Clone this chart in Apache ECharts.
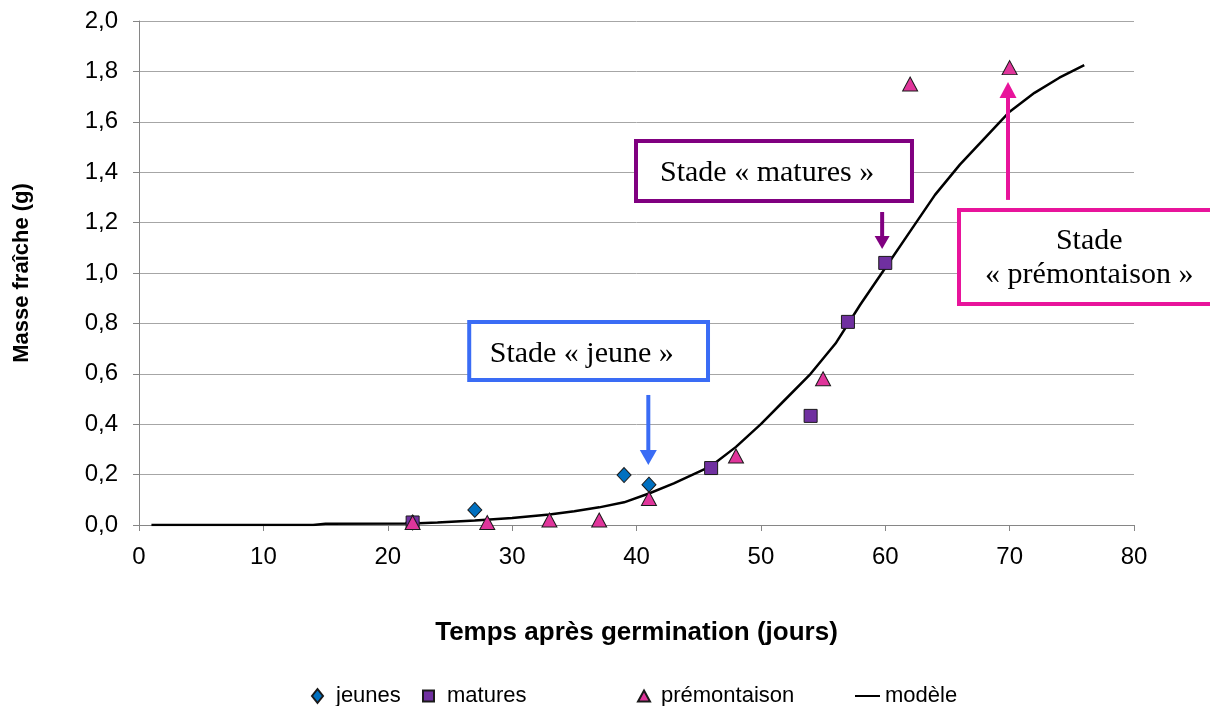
<!DOCTYPE html>
<html>
<head>
<meta charset="utf-8">
<script src="https://cdn.jsdelivr.net/npm/echarts@6/dist/echarts.min.js"></script>
<style>html,body{margin:0;padding:0;background:#fff;}#c{width:1210px;height:706px;}</style>
</head>
<body>
<div id="c"></div>
<script>
// ---- data ----
var jeunes = [[22, 0.01], [27, 0.06], [39, 0.198], [41, 0.16]];
var matures = [[22, 0.01], [46, 0.226], [54, 0.433], [57, 0.806], [60, 1.04]];
var premontaison = [[22, 0.01], [28, 0.01], [33, 0.02], [37, 0.02], [41, 0.105], [48, 0.274], [55, 0.58], [62, 1.75], [70, 1.815]];
var modeleX = [1, 14, 15, 22, 24, 27, 30, 33, 35, 37, 39, 41, 43, 46, 48, 50, 52, 54, 56, 58, 60, 62, 64, 66, 68, 70, 72, 74, 76];
var modeleY = [0, 0, 0.005, 0.006, 0.01, 0.018, 0.028, 0.042, 0.055, 0.07, 0.09, 0.125, 0.165, 0.234, 0.31, 0.40, 0.50, 0.60, 0.72, 0.875, 1.02, 1.165, 1.31, 1.43, 1.535, 1.64, 1.715, 1.775, 1.825];
var xTickLabels = ['0', '10', '20', '30', '40', '50', '60', '70', '80'];
var yTickLabels = ['0,0', '0,2', '0,4', '0,6', '0,8', '1,0', '1,2', '1,4', '1,6', '1,8', '2,0'];
var seriesNames = ['jeunes', 'matures', 'prémontaison', 'modèle'];
var xTitle = 'Temps après germination (jours)';
var yTitle = 'Masse fraîche (g)';
var annotTexts = ['Stade « jeune »', 'Stade « matures »', 'Stade\n« prémontaison »'];

var modele = modeleX.map(function (x, i) { return [x, modeleY[i]]; });

var chart = echarts.init(document.getElementById('c'));
var sansFont = 'Liberation Sans, Arial, sans-serif';
var axisGray = '#868686';

function legendFor(name, icon, left, w, h, pad) {
  return {
    data: [{ name: name, icon: icon }], left: left, top: 685, itemWidth: w, itemHeight: h,
    itemGap: 0, padding: 0,
    textStyle: { fontFamily: sansFont, fontSize: 22, color: '#000', padding: [0, 0, 0, pad] }
  };
}

chart.setOption({
  animation: false,
  backgroundColor: '#fff',
  grid: { left: 139, right: 76, top: 21, bottom: 181 },
  legend: [
    legendFor(seriesNames[0], 'diamond', 311, 11, 14, 8),
    legendFor(seriesNames[1], 'rect', 422, 11, 11, 8),
    legendFor(seriesNames[2], 'triangle', 637, 12, 11, 6),
    legendFor(seriesNames[3], 'rect', 855, 25, 2, 0)
  ],
  xAxis: {
    type: 'value', min: 0, max: 80, interval: 10,
    name: xTitle, nameLocation: 'middle', nameGap: 95,
    nameTextStyle: { fontFamily: sansFont, fontSize: 26, fontWeight: 'bold', color: '#000' },
    axisLine: { show: true, onZero: false, lineStyle: { color: axisGray, width: 1 } },
    axisTick: { show: true, length: 6, lineStyle: { color: axisGray } },
    axisLabel: {
      margin: 20, fontFamily: sansFont, fontSize: 24, color: '#000',
      formatter: function (v) { return xTickLabels[Math.round(v / 10)]; }
    },
    splitLine: { show: false }
  },
  yAxis: {
    type: 'value', min: 0, max: 2, interval: 0.2,
    name: yTitle, nameLocation: 'middle', nameGap: 106, nameRotate: 90,
    nameTextStyle: { fontFamily: sansFont, fontSize: 22, fontWeight: 'bold', color: '#000' },
    axisLine: { show: true, lineStyle: { color: axisGray, width: 1 } },
    axisTick: { show: true, length: 6, lineStyle: { color: axisGray } },
    axisLabel: {
      margin: 21, fontFamily: sansFont, fontSize: 24, color: '#000',
      formatter: function (v) { return yTickLabels[Math.round(v / 0.2)]; }
    },
    splitLine: { show: true, lineStyle: { color: '#a6a6a6', width: 1 } }
  },
  series: [
    {
      name: seriesNames[3], type: 'line', data: modele, symbol: 'none', z: 2,
      lineStyle: { color: '#000', width: 2.5 }, itemStyle: { color: '#000' }
    },
    {
      name: seriesNames[0], type: 'scatter', data: jeunes, symbol: 'diamond', symbolSize: [14, 15], z: 3,
      itemStyle: { color: '#0070c0', borderColor: '#1a1a1a', borderWidth: 1, opacity: 1 }
    },
    {
      name: seriesNames[1], type: 'scatter', data: matures, symbol: 'rect', symbolSize: 13, z: 3,
      itemStyle: { color: '#7030a0', borderColor: '#1a1a1a', borderWidth: 1, opacity: 1 }
    },
    {
      name: seriesNames[2], type: 'scatter', data: premontaison, symbol: 'triangle', symbolSize: [15, 14], z: 4,
      itemStyle: { color: '#e0359b', borderColor: '#1a1a1a', borderWidth: 1, opacity: 1 }
    }
  ]
});

// ---- annotations anchored to data coordinates ----
function P(x, y) { return chart.convertToPixel({ gridIndex: 0 }, [x, y]); }
var serif = 'Liberation Serif, Times New Roman, serif';

function box(x0, y0, x1, y1, color, text, tx, ty) {
  var a = P(x0, y0), b = P(x1, y1), t = P(tx, ty);
  return [
    { type: 'rect', z: 100, shape: { x: a[0], y: a[1], width: b[0] - a[0], height: b[1] - a[1] },
      style: { fill: '#fff', stroke: color, lineWidth: 4 } },
    { type: 'text', z: 101, x: t[0], y: t[1],
      style: { text: text, font: '30px ' + serif, fill: '#000', align: 'center', verticalAlign: 'middle', lineHeight: 34 } }
  ];
}
function arrow(x, yFrom, yTo, color, headLen, headW) {
  var f = P(x, yFrom), t = P(x, yTo);
  var dir = t[1] > f[1] ? 1 : -1;
  var baseY = t[1] - dir * headLen;
  return [
    { type: 'line', z: 100, shape: { x1: f[0], y1: f[1], x2: t[0], y2: baseY + dir * 1 },
      style: { stroke: color, lineWidth: 4 } },
    { type: 'polygon', z: 100, shape: { points: [[t[0] - headW / 2, baseY], [t[0] + headW / 2, baseY], [t[0], t[1]]] },
      style: { fill: color } }
  ];
}

var els = [];
els = els.concat(box(26.55, 0.806, 45.75, 0.575, '#3a6cf5', annotTexts[0], 35.6, 0.68));
els = els.concat(arrow(40.95, 0.516, 0.238, '#3a6cf5', 15, 17));
els = els.concat(box(39.96, 1.524, 62.15, 1.286, '#800080', annotTexts[1], 50.5, 1.398));
els = els.concat(arrow(59.75, 1.242, 1.095, '#800080', 13, 15));
els = els.concat(box(65.93, 1.25, 86.5, 0.877, '#e8149b', annotTexts[2], 76.4, 1.058));
els = els.concat(arrow(69.87, 1.29, 1.758, '#e8149b', 16, 17));
chart.setOption({ graphic: { elements: els } });
</script>
</body>
</html>
